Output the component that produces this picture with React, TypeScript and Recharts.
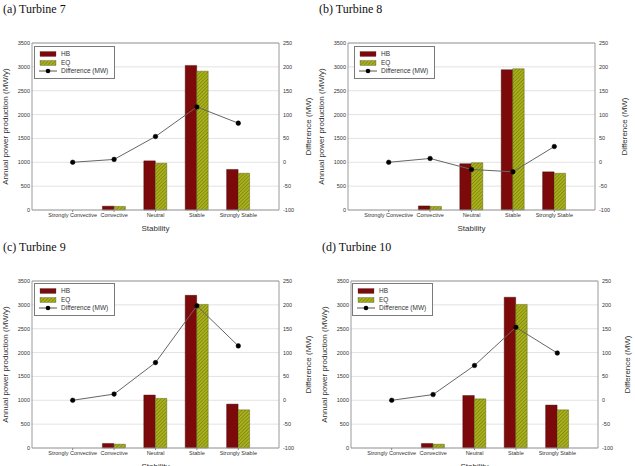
import {
	ComposedChart,
	Bar,
	Line,
	XAxis,
	YAxis,
	CartesianGrid,
	Legend,
	ReferenceLine,
} from 'recharts';

const stability = ['Strongly Convective', 'Convective', 'Neutral', 'Stable', 'Strongly Stable'];

const powerTicks = [0, 500, 1000, 1500, 2000, 2500, 3000, 3500];
const diffTicks = [-100, -50, 0, 50, 100, 150, 200, 250];

// turbine 7
const hb7 = [0, 80, 1030, 3030, 850];
const eq7 = [0, 75, 980, 2910, 770];
const diff7 = [0, 6, 54, 116, 82];

// turbine 8
const hb8 = [0, 85, 970, 2940, 800];
const eq8 = [0, 75, 990, 2960, 770];
const diff8 = [0, 8, -15, -20, 33];

// turbine 9
const hb9 = [0, 95, 1110, 3200, 920];
const eq9 = [0, 80, 1040, 3010, 800];
const diff9 = [0, 13, 79, 198, 114];

// turbine 10
const hb10 = [0, 95, 1100, 3160, 900];
const eq10 = [0, 80, 1030, 3010, 800];
const diff10 = [0, 12, 73, 153, 99];

const makeRows = (hb: number[], eq: number[], diff: number[]) =>
	stability.map((s, i) => ({ stability: s, hb: hb[i], eq: eq[i], diff: diff[i] }));

const sans = '"Liberation Sans", Arial, sans-serif';
const HB_COLOR = '#7c0a0a';
const legendOrder = ['hb', 'eq', 'diff'];

const LegendBox = (props: any) => {
	const items = [...(props.payload || [])].sort(
		(a: any, b: any) => legendOrder.indexOf(a.dataKey) - legendOrder.indexOf(b.dataKey),
	);
	return (
		<div
			style={{
				border: '1px solid #7a7a7a',
				background: '#fff',
				width: 81,
				height: 33,
				boxSizing: 'border-box',
				padding: '3px 0 0 4px',
				fontFamily: sans,
				fontSize: 6.5,
				lineHeight: '8.5px',
				color: '#333',
			}}
		>
			{items.map((it: any) => (
				<div key={it.value} style={{ display: 'flex', alignItems: 'center', height: 8.5 }}>
					<svg width={18} height={8} style={{ marginRight: 4 }}>
						{it.dataKey === 'diff' ? (
							<>
								<line x1={0} y1={4} x2={18} y2={4} stroke="#555" strokeWidth={1} />
								<circle cx={9} cy={4} r={2.3} fill="#000" />
							</>
						) : (
							<rect
								x={1}
								y={1.5}
								width={16}
								height={5}
								fill={it.dataKey === 'hb' ? HB_COLOR : 'url(#eqHatch)'}
								stroke="#444"
								strokeWidth={0.3}
							/>
						)}
					</svg>
					<span>{it.value}</span>
				</div>
			))}
		</div>
	);
};

interface panelProps {
	title: string;
	rows: Array<{ stability: string; hb: number; eq: number; diff: number }>;
	left: number;
	top: number;
	legendLeft: number;
	legendTop: number;
}

const Panel = (props: panelProps) => {
	return (
		<div style={{ position: 'absolute', left: props.left, top: props.top, width: 317, height: 233 }}>
			<div
				style={{
					position: 'absolute',
					left: 3,
					top: 2,
					fontFamily: '"Liberation Serif", "Times New Roman", serif',
					fontSize: 12,
					color: '#111',
					whiteSpace: 'nowrap',
				}}
			>
				{props.title}
			</div>
			<ComposedChart
				width={317}
				height={233}
				data={props.rows}
				margin={{ top: 43, right: 0, bottom: 0, left: 0 }}
				barGap={0}
				barSize={11.5}
			>
				<CartesianGrid vertical={false} stroke="#e3e3e3" yAxisId="power" />
				<XAxis
					dataKey="stability"
					height={23}
					padding={{ left: 20, right: 20 }}
					interval={0}
					tick={{ fontSize: 5.5, fill: '#333', fontFamily: sans }}
					tickSize={2}
					tickMargin={1}
					tickLine={{ stroke: '#888' }}
					axisLine={{ stroke: '#9a9a9a' }}
					label={{ value: 'Stability', position: 'insideBottom', offset: 2, fontSize: 8, fill: '#333', fontFamily: sans }}
				/>
				<YAxis
					yAxisId="power"
					domain={[0, 3500]}
					ticks={powerTicks}
					width={32}
					tickSize={0}
					tickMargin={2}
					tickLine={false}
					tick={{ fontSize: 5.5, fill: '#333', fontFamily: sans }}
					axisLine={{ stroke: '#9a9a9a' }}
					label={{
						value: 'Annual power production (MW/y)',
						angle: -90,
						position: 'insideLeft',
						offset: 5,
						fontSize: 8,
						fill: '#333',
						fontFamily: sans,
						style: { textAnchor: 'middle' },
					}}
				/>
				<YAxis
					yAxisId="diff"
					orientation="right"
					domain={[-100, 250]}
					ticks={diffTicks}
					width={38}
					tickSize={0}
					tickMargin={4}
					tickLine={false}
					tick={{ fontSize: 5.5, fill: '#333', fontFamily: sans }}
					axisLine={{ stroke: '#9a9a9a' }}
					label={{
						value: 'Difference (MW)',
						angle: -90,
						position: 'insideRight',
						offset: 9,
						fontSize: 8,
						fill: '#333',
						fontFamily: sans,
						style: { textAnchor: 'middle' },
					}}
				/>
				<ReferenceLine yAxisId="power" y={3500} stroke="#9a9a9a" />
				<Legend
					layout="vertical"
					align="center"
					verticalAlign="middle"
					content={LegendBox}
					wrapperStyle={{ left: props.legendLeft, top: props.legendTop, width: 81, height: 33 }}
				/>
				<Bar yAxisId="power" dataKey="hb" name="HB" fill={HB_COLOR} stroke="#3a0000" strokeWidth={0.4} isAnimationActive={false} />
				<Bar yAxisId="power" dataKey="eq" name="EQ" fill="url(#eqHatch)" stroke="#4a4f00" strokeWidth={0.4} isAnimationActive={false} />
				<Line
					yAxisId="diff"
					type="linear"
					dataKey="diff"
					name="Difference (MW)"
					stroke="#666"
					strokeWidth={1}
					dot={{ r: 2.3, fill: '#000', stroke: '#000', strokeWidth: 0.5 }}
					isAnimationActive={false}
				/>
			</ComposedChart>
		</div>
	);
};

const App = () => {
	return (
		<div style={{ position: 'absolute', left: 0, top: 0, width: 635, height: 466, overflow: 'hidden', background: '#fff' }}>
			<svg width={0} height={0} style={{ position: 'absolute' }}>
				<defs>
					<pattern id="eqHatch" patternUnits="userSpaceOnUse" width={2.5} height={2.5} patternTransform="rotate(45)">
						<rect width={2.5} height={2.5} fill="#a9b21e" />
						<line x1={0} y1={0} x2={0} y2={2.5} stroke="#5f6500" strokeWidth={0.9} />
					</pattern>
				</defs>
			</svg>
			<Panel title="(a) Turbine 7" rows={makeRows(hb7, eq7, diff7)} left={0} top={0} legendLeft={34} legendTop={46} />
			<Panel title="(b) Turbine 8" rows={makeRows(hb8, eq8, diff8)} left={316} top={0} legendLeft={38} legendTop={46} />
			<Panel title="(c) Turbine 9" rows={makeRows(hb9, eq9, diff9)} left={0} top={238} legendLeft={34} legendTop={45} />
			<Panel title="(d) Turbine 10" rows={makeRows(hb10, eq10, diff10)} left={319} top={238} legendLeft={33} legendTop={45} />
		</div>
	);
};

export default App;
